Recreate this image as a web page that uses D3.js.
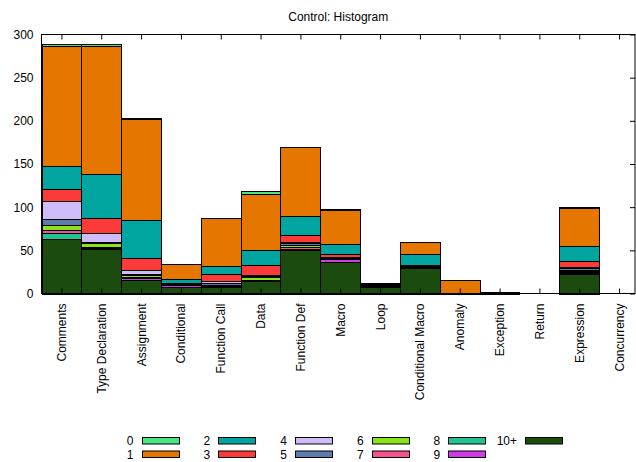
<!DOCTYPE html>
<html>
<head>
<meta charset="utf-8">
<script src="https://cdn.jsdelivr.net/npm/d3@7"></script>
<style>
  body { margin:0; background:#fff; }
  svg text { font-family: "Liberation Sans", Arial, sans-serif; font-size:12px; fill:#000; }
</style>
</head>
<body>
<div id="chart"></div>
<script>
// Control histogram — stacked counts per category
const categories = ['Comments','Type Declaration','Assignment','Conditional','Function Call','Data',
  'Function Def','Macro','Loop','Conditional Macro','Anomaly','Exception','Return','Expression','Concurrency'];
const bins = ['0','1','2','3','4','5','6','7','8','9','10+'];
const yTicks = [0,50,100,150,200,250,300];

const v0   = [2, 2, 1, 0, 0, 4, 0, 1, 0, 0, 0, 0, 0, 1, 0];
const v1   = [139, 149, 117, 17, 56, 65, 80, 40, 1, 14, 15, 0, 0, 44, 0];
const v2   = [27, 51, 44, 5, 9, 17, 22, 11, 0, 13, 0, 0, 0, 17, 0];
const v3   = [14, 17, 14, 0, 8, 11, 8, 4, 0, 1, 0, 0, 0, 7, 0];
const v4   = [21, 10, 4, 0, 3, 2, 2, 0, 0, 0, 0, 0, 0, 2, 0];
const v5   = [7, 2, 2, 1, 2, 1, 2, 1, 1, 0, 0, 0, 0, 2, 0];
const v6   = [6, 4, 2, 0, 0, 3, 2, 0, 0, 0, 0, 0, 0, 1, 0];
const v7   = [3, 1, 1, 1, 1, 0, 2, 1, 1, 1, 0, 0, 0, 1, 0];
const v8   = [7, 1, 0, 0, 0, 0, 2, 0, 0, 0, 0, 0, 0, 1, 0];
const v9   = [0, 1, 2, 2, 1, 1, 0, 4, 2, 1, 0, 0, 0, 1, 0];
const v10p = [63, 51, 16, 8, 8, 15, 50, 36, 7, 30, 1, 2, 0, 23, 0];

const C = ['#48e684','#e57700','#00a5a0','#fc3a3a','#d0bcf8','#5b7bab','#8ae41a','#f5528f','#20c391','#cf3be6','#1b4b0f'];

(function() {
  const vals = [v0,v1,v2,v3,v4,v5,v6,v7,v8,v9,v10p];
  const W = 636, H = 462;
  const L = 41.5, R = 635, T = 34.5, B = 293.5;

  // stacking order bottom -> top: 10+, 9, ..., 0
  const rows = categories.map((c,i) => {
    const o = {cat:c, idx:i};
    bins.forEach((b,k) => o[b] = vals[k][i]);
    return o;
  });
  const stack = d3.stack().keys(bins.slice().reverse())(rows);

  const xSc = d3.scaleLinear().domain([-0.5,14.4]).range([L,R]);
  const ySc = d3.scaleLinear().domain([0,300]).range([B,T]);
  const cSc = d3.scaleOrdinal().domain(bins).range(C);

  const svg = d3.select('#chart').append('svg').attr('width',W).attr('height',H);

  svg.append('text').attr('x',(L+R)/2).attr('y',21).attr('text-anchor','middle').text('Control: Histogram');

  const g = svg.append('g');
  stack.forEach(layer => {
    g.selectAll(null).data(layer.filter(d => d[1]-d[0] > 0)).join('rect')
      .attr('x', d => Math.round(xSc(d.data.idx-0.5))+0.5)
      .attr('width', d => Math.round(xSc(d.data.idx+0.5)) - Math.round(xSc(d.data.idx-0.5)))
      .attr('y', d => Math.round(ySc(d[1]))+0.5)
      .attr('height', d => Math.round(ySc(d[0])) - Math.round(ySc(d[1])))
      .attr('fill', cSc(layer.key)).attr('stroke','#000').attr('stroke-width',1);
  });

  // axes (gnuplot style, inward ticks, mirrored)
  const ax = svg.append('g');
  ax.append('g').attr('transform',`translate(${L},0)`)
    .call(d3.axisLeft(ySc).tickValues(yTicks).tickSize(0).tickPadding(8))
    .call(a => a.select('.domain').remove())
    .call(a => a.selectAll('text').style('font-size','12px').attr('font-family',null));
  ax.append('g').attr('transform',`translate(${R},0)`)
    .call(d3.axisLeft(ySc).tickValues(yTicks).tickSize(5).tickFormat(''))
    .call(a => a.select('.domain').remove())
    .call(a => a.selectAll('line').attr('stroke','#000'));
  ax.append('g').attr('transform',`translate(0,${T})`)
    .call(d3.axisBottom(xSc).tickValues(d3.range(categories.length)).tickSize(5).tickFormat(''))
    .call(a => a.select('.domain').remove());
  ax.append('g').attr('transform',`translate(0,${B})`)
    .call(d3.axisTop(xSc).tickValues(d3.range(categories.length)).tickSize(5).tickFormat(''))
    .call(a => a.select('.domain').remove());
  ax.selectAll('line').attr('stroke','#000');

  svg.append('rect').attr('x',L).attr('y',T).attr('width',R-L).attr('height',B-T)
    .attr('fill','none').attr('stroke','#000').attr('stroke-width',1);

  // rotated category labels
  svg.append('g').selectAll('text').data(categories).join('text')
    .attr('transform',(d,i)=>`translate(${xSc(i)+4.5},${B+10}) rotate(-90)`)
    .attr('text-anchor','end').text(d=>d);

  // legend, column-major
  const lg = svg.append('g');
  bins.forEach((b,k) => {
    const col = Math.floor(k/2), row = k%2;
    const bx = 141.5 + col*76.7, by = 437.5 + row*13.5;
    lg.append('text').attr('x',bx-8).attr('y',by+7.5).attr('text-anchor','end').text(b);
    lg.append('rect').attr('x',Math.round(bx)+0.5).attr('y',by).attr('width',37).attr('height',6.5)
      .attr('fill',cSc(b)).attr('stroke','#000').attr('stroke-width',1);
  });
})();
</script>
</body>
</html>
